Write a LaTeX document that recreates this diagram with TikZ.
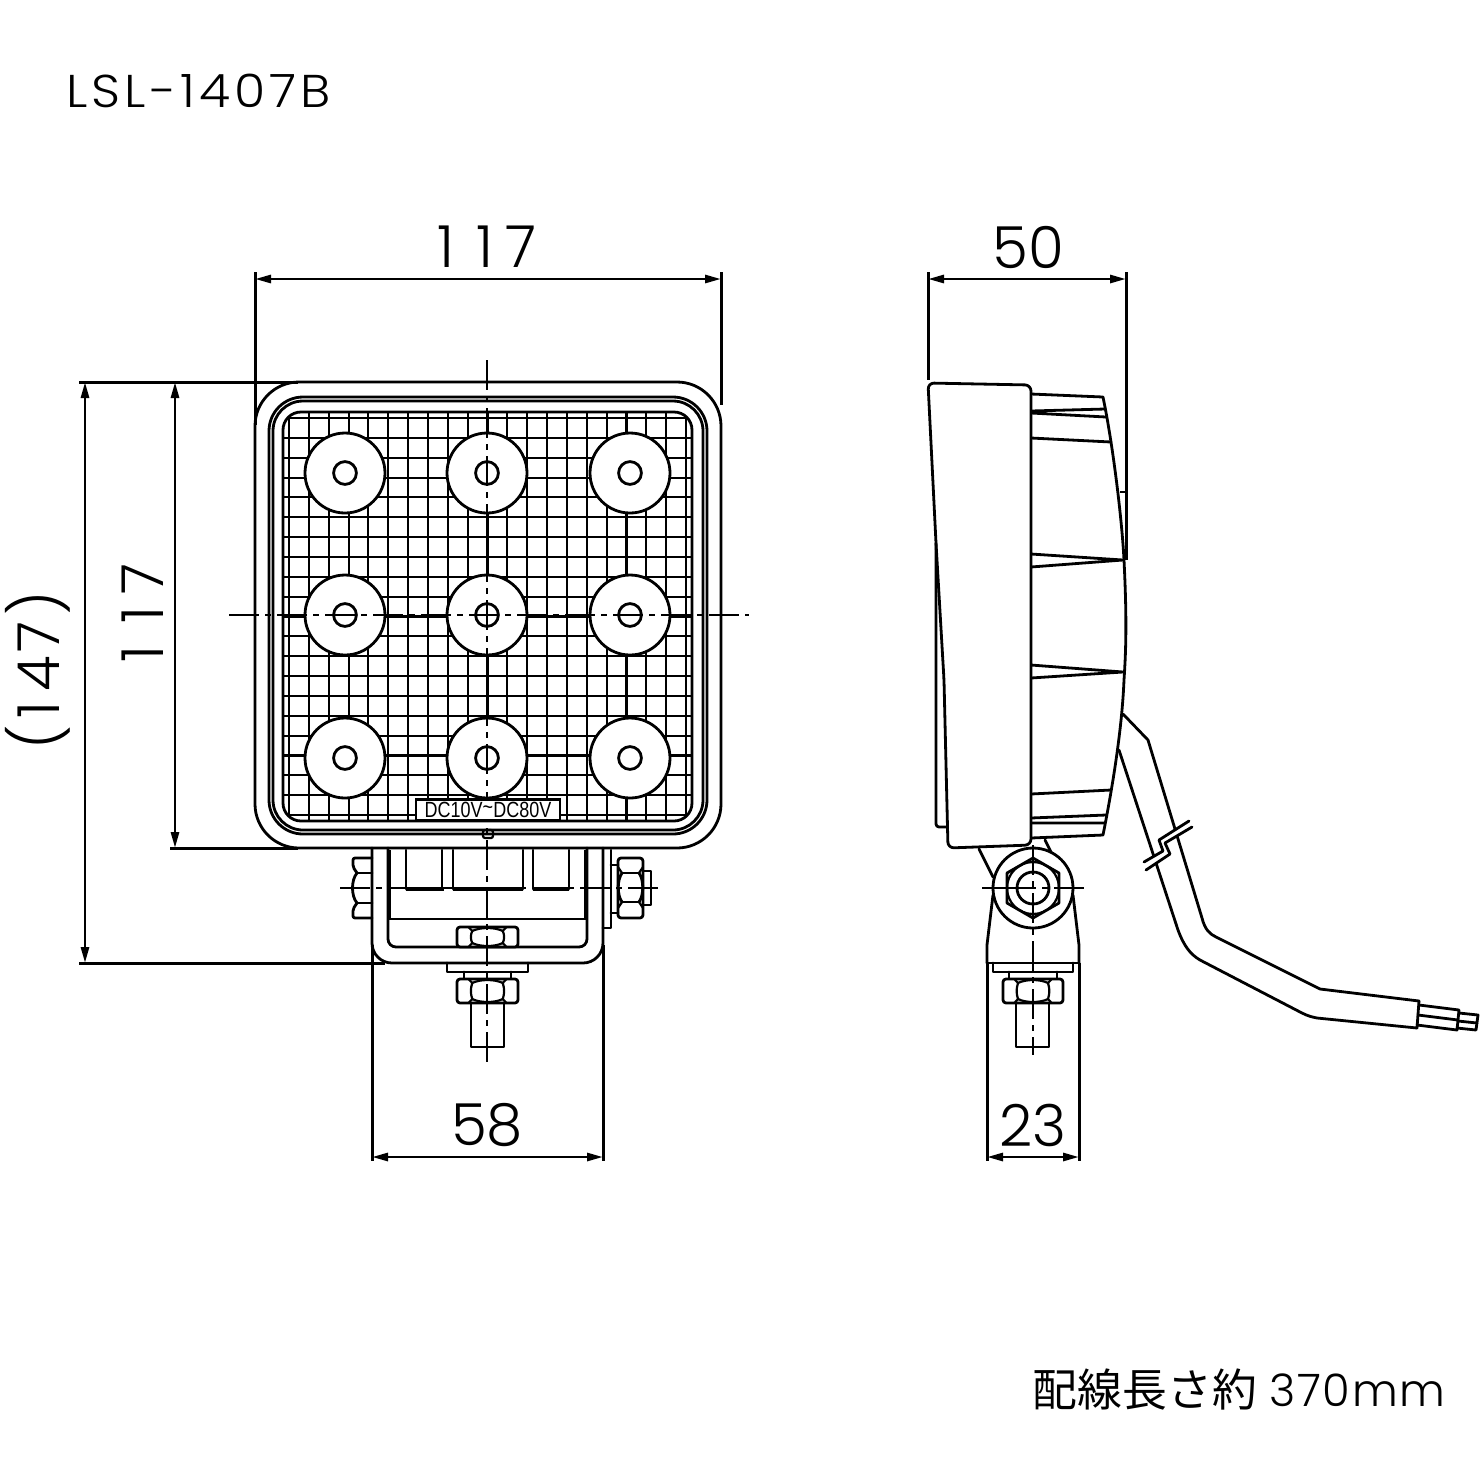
\documentclass[tikz,border=0pt]{standalone}
\usepackage{fontspec}
\setmainfont{Poppins Light}
\newfontfamily\cjkfont{Noto Sans CJK JP}
\newfontfamily\platefont{Liberation Sans}
\usetikzlibrary{arrows.meta}
\tikzset{
  x=0.5pt,y=-0.5pt,
  part/.style={line width=1.4pt,line join=round,line cap=round},
  thin part/.style={line width=1.1pt,line join=round},
  heavy/.style={line width=2.2pt},
  gridline/.style={line width=1.05pt},
  centre/.style={line width=1.1pt,dash pattern=on 15pt off 3pt on 3pt off 3pt},
  dimline/.style={line width=1.4pt,{Stealth[length=8pt,width=4pt,inset=0pt]}-{Stealth[length=8pt,width=4pt,inset=0pt]}},
  extline/.style={line width=1.5pt},
  dimtext/.style={font=\fontsize{29}{29}\selectfont,inner sep=0pt},
  lamp/.style={part,fill=white},
}
% nut seen from the side: left, right, top, bottom
\newcommand{\nutH}[4]{%
  \draw[part,rounded corners=1.5pt,fill=white] (#1,#3) rectangle (#2,#4);
  \draw[thin part] ({#1+(#2-#1)*0.25},{#3+4}) .. controls ({#1+(#2-#1)*0.38},#3) and ({#2-(#2-#1)*0.38},#3) .. ({#2-(#2-#1)*0.25},{#3+4})
     .. controls ({#2-(#2-#1)*0.22},{#3+(#4-#3)*0.4}) and ({#2-(#2-#1)*0.22},{#3+(#4-#3)*0.6}) .. ({#2-(#2-#1)*0.25},{#4-4})
     .. controls ({#2-(#2-#1)*0.38},#4) and ({#1+(#2-#1)*0.38},#4) .. ({#1+(#2-#1)*0.25},{#4-4})
     .. controls ({#1+(#2-#1)*0.22},{#3+(#4-#3)*0.6}) and ({#1+(#2-#1)*0.22},{#3+(#4-#3)*0.4}) .. cycle;
  \draw[thin part] ({#1+(#2-#1)*0.19},#3) -- ({#1+(#2-#1)*0.25},{#3+4})
                   ({#2-(#2-#1)*0.19},#3) -- ({#2-(#2-#1)*0.25},{#3+4})
                   ({#1+(#2-#1)*0.19},#4) -- ({#1+(#2-#1)*0.25},{#4-4})
                   ({#2-(#2-#1)*0.19},#4) -- ({#2-(#2-#1)*0.25},{#4-4});
}
\begin{document}
\begin{tikzpicture}
\useasboundingbox (0,0) rectangle (1480,1480);
\fill[white] (0,0) rectangle (1480,1480);

%% title texts
\node[anchor=west,inner sep=0pt,xscale=1.1,font=\fontsize{23}{23}\selectfont\addfontfeature{LetterSpace=8}] (title) at (66,91) {LSL-1407B};
\node[anchor=east,inner sep=0pt,font=\fontsize{22.4}{23}\selectfont] (wirelen) at (1446,1390) {{\cjkfont 配線長さ約} {\addfontfeature{LetterSpace=4}370mm}};

%% ---------- front view ----------
\draw[part,rounded corners=22pt] (255,382) rectangle (721,848);
\draw[part,rounded corners=17pt] (269,397) rectangle (707,834);
\draw[part,rounded corners=15pt] (273,401) rectangle (703,830);
\begin{scope}
  \clip[rounded corners=9pt] (283,412) rectangle (692,821);
  \foreach \k in {0,...,20} {
    \draw[gridline] ({289+19.85*\k},412) -- ({289+19.85*\k},821);
    \draw[gridline] (283,{418+19.85*\k}) -- (692,{418+19.85*\k});
  }
\end{scope}
\draw[part,rounded corners=9pt] (283,412) rectangle (692,821);

\foreach \cx in {345,487,630} \foreach \cy in {473,615,758} {
  \draw[lamp] (\cx,\cy) circle (20pt);
  \draw[lamp] (\cx,\cy) circle (5.7pt);
}
\draw[thin part,rounded corners=1pt] (483,830) rectangle (493,838);

% bracket (U shape)
\draw[part,rounded corners=10pt] (372,848) -- (372,963) -- (603,963) -- (603,848);
\draw[part,rounded corners=4pt] (388,848) -- (388,947) -- (587,947) -- (587,848);
\draw[heavy] (389,850) -- (389,919) (586,850) -- (586,919);
\draw[thin part] (389,919) -- (586,919);
% recessed blocks
\draw[part] (406,850) -- (406,889) (442,850) -- (442,889)
            (453,850) -- (453,889) (523,850) -- (523,889)
            (533,850) -- (533,889) (569,850) -- (569,889);
\draw[heavy] (406,889) -- (444,889) (453,889) -- (523,889) (533,889) -- (569,889);

% left nut
\draw[part,rounded corners=1pt] (372,858) -- (353,858) -- (353,867) -- (357,873);
\draw[part] (357,873) .. controls (351,880) and (351,896) .. (357,903);
\draw[part,rounded corners=1pt] (357,903) -- (353,909) -- (353,918) -- (372,918);
\draw[part] (357,873) -- (372,873) (357,903) -- (372,903);
% right plate, washer, nut, stud
\draw[part] (603,928) -- (611,928) -- (611,850);
\draw[part] (611,865) -- (618,865) (611,913) -- (618,913);
\draw[part,rounded corners=1.5pt] (618,858) rectangle (643,918);
\draw[part] (622,873) -- (639,873) (622,902) -- (639,902);
\draw[thin part] (618,867) -- (622,873) (643,867) -- (639,873)
                 (618,908) -- (622,902) (643,908) -- (639,902);
\draw[part] (622,873) .. controls (617,880) and (617,895) .. (622,902)
            (639,873) .. controls (644,880) and (644,895) .. (639,902);
\draw[part] (643,871) -- (651,871) -- (651,905) -- (643,905);

% bottom bolt
\nutH{457}{518}{927}{947}
\draw[part] (447,963) -- (447,972) -- (528,972) -- (528,963);
\draw[part] (464,972) -- (464,979) (511,972) -- (511,979);
\nutH{457}{518}{979}{1003}
\draw[part] (471,1003) -- (471,1047) -- (504,1047) -- (504,1003);

% centre lines front
\draw[centre] (487,360) -- (487,1065);
\draw[centre] (229,615) -- (749,615);
\draw[centre] (340,888) -- (660,888);

% voltage plate
\node[draw,line width=1.2pt,fill=white,minimum width=72pt,minimum height=10.5pt,inner sep=0pt] (plate) at (488,810) {};
\node[inner sep=0pt,xscale=0.9,yscale=1.1,font=\fontsize{10}{10}\selectfont\platefont] (platetext) at (488,809.5) {DC10V\raisebox{1pt}{\textasciitilde}DC80V};

%% ---------- side view ----------
% rear housing
\draw[part] (1031,394) -- (1103,397) .. controls (1113,445) and (1122,520) .. (1124,560)
            .. controls (1127,620) and (1126,650) .. (1124,680)
            .. controls (1122,730) and (1112,790) .. (1103,835) -- (1031,838);
\draw[part] (1031,411) -- (1105,409) (1031,413) -- (1106,417) (1031,438) -- (1111,442)
            (1031,554) -- (1123,560) -- (1031,567)
            (1031,665) -- (1123,672) -- (1031,678)
            (1031,794) -- (1111,790) (1031,818) -- (1106,815) (1031,823) -- (1105,823);
\draw[thin part] (1120,492) -- (1126,492);
% main body
\draw[part,rounded corners=3pt,fill=white] (928,383) -- (1031,385) -- (1031,845) -- (948,848) -- (944,680) -- (936,543) -- cycle;
\draw[part,rounded corners=1.5pt] (936,543) -- (936,827) -- (947,827);

% cable
\draw[part] (1123,714) -- (1148,740) -- (1202,918) .. controls (1205,930) and (1210,934) .. (1216,937) -- (1320,989) -- (1419,1001);
\draw[part] (1119,750) -- (1178,930) .. controls (1184,946) and (1190,954) .. (1200,960) -- (1302,1013) .. controls (1308,1016) and (1312,1017) .. (1317,1018) -- (1417,1028);
\draw[part] (1419,1001) -- (1417,1028);
\draw[part] (1419,1005) -- (1459,1010) -- (1457,1030) -- (1417,1025);
\draw[part] (1418,1015) -- (1458,1020);
\draw[part] (1459,1013) -- (1478,1015) -- (1476,1030) -- (1457,1028);
\draw[part] (1458,1021) -- (1477,1023);
% cable break
\fill[white] (1189,821) -- (1159,840) -- (1163,851) -- (1144,862) -- (1146,870) -- (1170,854) -- (1165,843) -- (1192,827) -- cycle;
\draw[part] (1189,821) -- (1159,840) -- (1163,851) -- (1144,862);
\draw[part] (1192,827) -- (1165,843) -- (1170,854) -- (1146,870);

% mounting bracket side
\draw[part] (979,849) -- (993,877) (1045,840) -- (1051,852);
\draw[part] (993,895) -- (987,945) -- (987,963) (1073,895) -- (1079,945) -- (1079,963);
\draw[part,fill=white] (1033,888) circle (20pt);
\begin{scope}
  \clip (1033,858) -- (1059,873) -- (1059,903) -- (1033,918) -- (1007,903) -- (1007,873) -- cycle;
  \draw[thin part] (1033,888) circle (13pt);
\end{scope}
\draw[part] (1033,858) -- (1059,873) -- (1059,903) -- (1033,918) -- (1007,903) -- (1007,873) -- cycle;
\draw[part] (1033,888) circle (8pt);
\draw[part] (987,963) -- (1079,963);
\draw[part] (993,963) -- (993,972) -- (1073,972) -- (1073,963);
\draw[part] (1009,972) -- (1009,979) (1057,972) -- (1057,979);
\nutH{1003}{1063}{979}{1003}
\draw[part] (1016,1003) -- (1016,1047) -- (1049,1047) -- (1049,1003);
% centre lines side
\draw[centre] (1033,845) -- (1033,1055);
\draw[centre,dash pattern=on 27pt off 3pt on 3pt off 3pt] (982,888) -- (1084,888);

%% ---------- dimensions ----------
\coordinate (t1) at (255,279); \coordinate (t2) at (721,279);
\coordinate (s1) at (928,279); \coordinate (s2) at (1126,279);
\coordinate (l1) at (85,382);  \coordinate (l2) at (85,963);
\coordinate (m1) at (175,382); \coordinate (m2) at (175,848);
\coordinate (b1) at (372,1157); \coordinate (b2) at (603,1157);
\coordinate (c1) at (987,1157); \coordinate (c2) at (1079,1157);
\draw[dimline] (t1) -- (t2);
\draw[dimline] (s1) -- (s2);
\draw[dimline] (l1) -- (l2);
\draw[dimline] (m1) -- (m2);
\draw[dimline] (b1) -- (b2);
\draw[dimline] (c1) -- (c2);
\draw[extline] (255,272) -- (255,425) (721,272) -- (721,405)
               (928,272) -- (928,380) (1126,272) -- (1126,560)
               (79,382) -- (298,382) (170,848) -- (298,848) (79,963) -- (385,963)
               (372,945) -- (372,1161) (603,945) -- (603,1161)
               (987,963) -- (987,1161) (1079,963) -- (1079,1161);
\node[dimtext] (d1) at (487,247) {1\hspace{0.38em}1\hspace{0.22em}7};
\node[dimtext] (d2) at (1028,247) {50};
\node[dimtext,rotate=90] (d3) at (143,613) {1\hspace{0.38em}1\hspace{0.22em}7};
\node[dimtext,rotate=90] (d4) at (38,670) {(\hspace{0.12em}1\hspace{0.16em}4\hspace{0.06em}7\hspace{0.12em})};
\node[dimtext] (d5) at (487,1125) {58};
\node[dimtext] (d6) at (1033,1125) {23};
\end{tikzpicture}
\end{document}
